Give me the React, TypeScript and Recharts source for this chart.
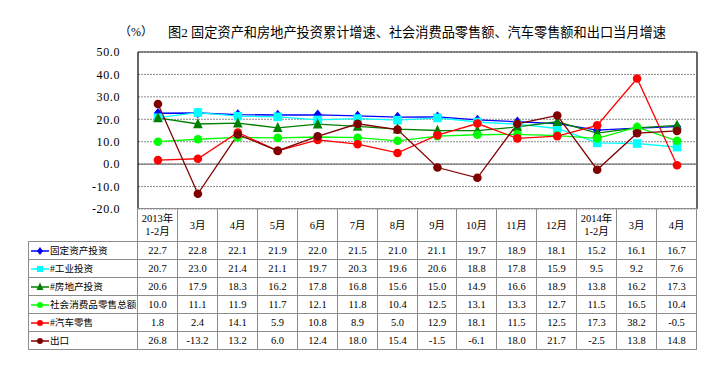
import React from "react";
import {
  LineChart,
  Line,
  XAxis,
  YAxis,
  CartesianGrid,
  ReferenceLine,
} from "recharts";

const months = [
  "2013年\n1-2月",
  "3月",
  "4月",
  "5月",
  "6月",
  "7月",
  "8月",
  "9月",
  "10月",
  "11月",
  "12月",
  "2014年\n1-2月",
  "3月",
  "4月",
];

const fixedAsset = [22.7, 22.8, 22.1, 21.9, 22.0, 21.5, 21.0, 21.1, 19.7, 18.9, 18.1, 15.2, 16.1, 16.7];
const industry = [20.7, 23.0, 21.4, 21.1, 19.7, 20.3, 19.6, 20.6, 18.8, 17.8, 15.9, 9.5, 9.2, 7.6];
const realEstate = [20.6, 17.9, 18.3, 16.2, 17.8, 16.8, 15.6, 15.0, 14.9, 16.6, 18.9, 13.8, 16.2, 17.3];
const retail = [10.0, 11.1, 11.9, 11.7, 12.1, 11.8, 10.4, 12.5, 13.1, 13.3, 12.7, 11.5, 16.5, 10.4];
const autoRetail = [1.8, 2.4, 14.1, 5.9, 10.8, 8.9, 5.0, 12.9, 18.1, 11.5, 12.5, 17.3, 38.2, -0.5];
const exports = [26.8, -13.2, 13.2, 6.0, 12.4, 18.0, 15.4, -1.5, -6.1, 18.0, 21.7, -2.5, 13.8, 14.8];

const yTicks = [-20, -10, 0, 10, 20, 30, 40, 50];

type Shape = "diamond" | "square" | "triangle" | "circle";

const SERIES: { key: string; name: string; color: string; shape: Shape; values: number[] }[] = [
  { key: "fa", name: "固定资产投资", color: "#0000FF", shape: "diamond", values: fixedAsset },
  { key: "ind", name: "#工业投资", color: "#00FFFF", shape: "square", values: industry },
  { key: "re", name: "#房地产投资", color: "#008000", shape: "triangle", values: realEstate },
  { key: "rt", name: "社会消费品零售总额", color: "#00FF00", shape: "circle", values: retail },
  { key: "auto", name: "#汽车零售", color: "#FF0000", shape: "circle", values: autoRetail },
  { key: "exp", name: "出口", color: "#800000", shape: "circle", values: exports },
];

const data = months.map((m, i) => {
  const row: Record<string, string | number> = { month: m };
  SERIES.forEach((s) => {
    row[s.key] = s.values[i];
  });
  return row;
});

const W = 725;
const H = 367;
const PLOT_LEFT = 138;
const PLOT_RIGHT = 697;
const PLOT_TOP = 52;
const PLOT_BOTTOM = 209;
const COL_W = (PLOT_RIGHT - PLOT_LEFT) / months.length;
const HEADER_H = 33;
const ROW_H = 18;
const LEGEND_LEFT = 29;
const BORDER = "1px solid #8c8c8c";
const FONT = '"Liberation Serif", "Noto Sans CJK SC", serif';

const colX = (i: number) => Math.round(PLOT_LEFT + i * COL_W);

function Marker({ shape, cx, cy, color, size = 4 }: { shape: Shape; cx: number; cy: number; color: string; size?: number }) {
  if (shape === "diamond") {
    return (
      <polygon
        points={`${cx},${cy - size - 1} ${cx + size},${cy} ${cx},${cy + size + 1} ${cx - size},${cy}`}
        fill={color}
      />
    );
  }
  if (shape === "square") {
    return <rect x={cx - size} y={cy - size} width={size * 2} height={size * 2} fill={color} />;
  }
  if (shape === "triangle") {
    return (
      <polygon
        points={`${cx},${cy - size - 1.5} ${cx + size + 0.5},${cy + size} ${cx - size - 0.5},${cy + size}`}
        fill={color}
      />
    );
  }
  return <circle cx={cx} cy={cy} r={size} fill={color} />;
}

function makeDot(shape: Shape, color: string) {
  return (props: any) => {
    const { cx, cy, index } = props;
    if (cx == null || cy == null) return <g key={index} />;
    return (
      <g key={index}>
        <Marker shape={shape} cx={cx} cy={cy} color={color} size={4.3} />
      </g>
    );
  };
}

function LegendKey({ shape, color }: { shape: Shape; color: string }) {
  return (
    <svg width={18} height={10} style={{ verticalAlign: "middle", marginRight: 1, flex: "none" }}>
      <line x1={0} y1={5} x2={18} y2={5} stroke={color} strokeWidth={1.5} />
      <Marker shape={shape} cx={9} cy={5} color={color} size={3} />
    </svg>
  );
}

function DataTable() {
  const cell = (left: number, top: number, width: number, height: number, content: React.ReactNode, extra: React.CSSProperties = {}) => (
    <div
      style={{
        position: "absolute",
        left,
        top,
        width,
        height,
        boxSizing: "border-box",
        border: BORDER,
        marginLeft: -1,
        marginTop: -1,
        display: "flex",
        alignItems: "center",
        justifyContent: "center",
        fontSize: 10.5,
        lineHeight: "13px",
        textAlign: "center",
        whiteSpace: "pre",
        overflow: "hidden",
        ...extra,
      }}
    >
      {content}
    </div>
  );

  const cells: React.ReactNode[] = [];
  months.forEach((m, i) => {
    cells.push(
      <React.Fragment key={`h${i}`}>
        {cell(colX(i), PLOT_BOTTOM, colX(i + 1) - colX(i) + 1, HEADER_H + 1, m)}
      </React.Fragment>
    );
  });
  SERIES.forEach((s, r) => {
    const top = PLOT_BOTTOM + HEADER_H + r * ROW_H;
    cells.push(
      <React.Fragment key={`l${r}`}>
        {cell(
          LEGEND_LEFT,
          top,
          PLOT_LEFT - LEGEND_LEFT + 1,
          ROW_H + 1,
          <>
            <LegendKey shape={s.shape} color={s.color} />
            <span>{s.name}</span>
          </>,
          { justifyContent: "flex-start", paddingLeft: 2, fontSize: 9.6 }
        )}
      </React.Fragment>
    );
    s.values.forEach((v, i) => {
      cells.push(
        <React.Fragment key={`c${r}-${i}`}>
          {cell(colX(i), top, colX(i + 1) - colX(i) + 1, ROW_H + 1, v.toFixed(1))}
        </React.Fragment>
      );
    });
  });
  return <>{cells}</>;
}

export default function App() {
  return (
    <div
      style={{
        position: "absolute",
        left: 0,
        top: 0,
        width: W,
        height: H,
        background: "#fff",
        fontFamily: FONT,
        color: "#000",
      }}
    >
      <div style={{ position: "absolute", left: 119, top: 22, fontSize: 12 }}>（%）</div>
      <div style={{ position: "absolute", left: 168, top: 22, fontSize: 13.2 }}>
        图2 固定资产和房地产投资累计增速、社会消费品零售额、汽车零售额和出口当月增速
      </div>
      <LineChart
        width={W}
        height={H}
        data={data}
        margin={{ top: PLOT_TOP, right: W - PLOT_RIGHT, bottom: H - PLOT_BOTTOM, left: PLOT_LEFT - 60 }}
        style={{ position: "absolute", left: 0, top: 0 }}
      >
        <CartesianGrid vertical={false} horizontal stroke="#8c8c8c" strokeDasharray="2 1" />
        <XAxis dataKey="month" hide padding={{ left: COL_W / 2, right: COL_W / 2 }} />
        <YAxis
          width={60}
          domain={[-20, 50]}
          ticks={yTicks}
          interval={0}
          tickFormatter={(v: number) => v.toFixed(1)}
          tick={{ fill: "#000", fontSize: 12, fontFamily: FONT, letterSpacing: 0.6 }}
          tickLine={false}
          tickMargin={12}
          axisLine={{ stroke: "#000", strokeWidth: 1.2 }}
        />
        <ReferenceLine y={0} stroke="#777" strokeWidth={1.2} />
        <ReferenceLine y={50} stroke="#333" strokeWidth={1.2} />
        {SERIES.map((s) => (
          <Line
            key={s.key}
            dataKey={s.key}
            name={s.name}
            stroke={s.color}
            strokeWidth={1.3}
            dot={makeDot(s.shape, s.color)}
            activeDot={false}
            isAnimationActive={false}
          />
        ))}
      </LineChart>
      <div
        style={{
          position: "absolute",
          left: PLOT_RIGHT - 1,
          top: PLOT_TOP,
          width: 2,
          height: PLOT_BOTTOM - PLOT_TOP,
          background: "#666",
        }}
      />
      <DataTable />
    </div>
  );
}
